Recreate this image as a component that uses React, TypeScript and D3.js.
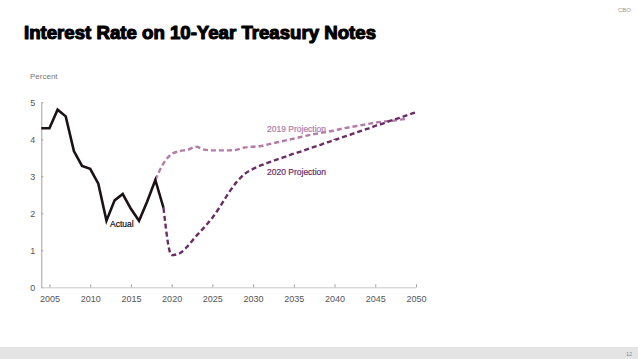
import React, { useRef, useEffect } from "react";
import { select, scaleLinear, line, axisLeft, axisBottom, curveMonotoneX, curveLinear } from "d3";

// actual yields, 2004-2019
const actualYears = [2004, 2005, 2006, 2007, 2008, 2009, 2010, 2011, 2012, 2013, 2014, 2015, 2016, 2017, 2018, 2019];
const actualValues = [4.3, 4.3, 4.8, 4.62, 3.68, 3.28, 3.2, 2.8, 1.8, 2.35, 2.52, 2.12, 1.8, 2.32, 2.9, 2.15];

// 2019 projection, 2018-2049
const proj2019Years = [
  2018, 2019, 2020, 2021, 2022, 2023, 2024, 2025, 2026, 2027, 2028, 2029, 2030, 2031, 2032, 2033,
  2034, 2035, 2036, 2037, 2038, 2039, 2040, 2041, 2042, 2043, 2044, 2045, 2046, 2047, 2048, 2049
];
const proj2019Values = [
  2.9, 3.35, 3.6, 3.68, 3.72, 3.8, 3.72, 3.7, 3.7, 3.7, 3.72, 3.78, 3.8, 3.82, 3.87, 3.92,
  3.97, 4.02, 4.07, 4.12, 4.16, 4.2, 4.24, 4.29, 4.33, 4.37, 4.41, 4.45, 4.48, 4.5, 4.53, 4.56
];

// 2020 projection, 2019-2050
const proj2020Years = [
  2019, 2020, 2021, 2022, 2023, 2024, 2025, 2026, 2027, 2028, 2029, 2030, 2031, 2032, 2033, 2034,
  2035, 2036, 2037, 2038, 2039, 2040, 2041, 2042, 2043, 2044, 2045, 2046, 2047, 2048, 2049, 2050
];
const proj2020Values = [
  2.15, 0.87, 0.92, 1.12, 1.38, 1.62, 1.88, 2.2, 2.55, 2.85, 3.07, 3.2, 3.3, 3.38, 3.46, 3.53,
  3.61, 3.68, 3.76, 3.83, 3.91, 3.98, 4.06, 4.13, 4.21, 4.28, 4.36, 4.43, 4.51, 4.58, 4.66, 4.73
];

const xTicks = [2005, 2010, 2015, 2020, 2025, 2030, 2035, 2040, 2045, 2050];
const yTicks = [0, 1, 2, 3, 4, 5];

const W = 638;
const H = 359;
const FONT = "'Liberation Sans', Arial, sans-serif";

const App = () => {
  const svgRef = useRef<SVGSVGElement>(null);

  useEffect(() => {
    const svg = select(svgRef.current);
    svg.selectAll("*").remove();

    const xScale = scaleLinear().domain([2004, 2050]).range([41.3, 416]);
    const yScale = scaleLinear().domain([0, 5]).range([287.3, 102.3]);

    svg.append("rect").attr("width", W).attr("height", H).attr("fill", "#fff");

    // title + header bits
    svg
      .append("text")
      .attr("x", 24)
      .attr("y", 39)
      .attr("font-family", FONT)
      .attr("font-weight", "bold")
      .attr("font-size", 18)
      .attr("stroke", "#000")
      .attr("stroke-width", 1.1)
      .attr("stroke-linejoin", "round")
      .attr("textLength", 352)
      .attr("lengthAdjust", "spacingAndGlyphs")
      .text("Interest Rate on 10-Year Treasury Notes");

    svg
      .append("text")
      .attr("x", 631)
      .attr("y", 12)
      .attr("text-anchor", "end")
      .attr("font-family", FONT)
      .attr("font-size", 6)
      .attr("fill", "#999")
      .text("CBO");

    // footer band
    svg.append("rect").attr("x", 0).attr("y", 347).attr("width", W).attr("height", 12).attr("fill", "#e4e4e4");
    svg
      .append("text")
      .attr("x", 632)
      .attr("y", 356)
      .attr("text-anchor", "end")
      .attr("font-family", FONT)
      .attr("font-size", 5.5)
      .attr("fill", "#888")
      .text("12");

    svg
      .append("text")
      .attr("x", 30)
      .attr("y", 79)
      .attr("font-family", FONT)
      .attr("font-size", 8)
      .attr("fill", "#777")
      .text("Percent");

    // axes
    const yAxis = axisLeft(yScale)
      .tickValues(yTicks)
      .tickFormat((d: any) => String(d))
      .tickSizeInner(-2)
      .tickSizeOuter(0)
      .tickPadding(6);
    const gy = svg.append("g").attr("transform", "translate(41.3,0)").call(yAxis);
    gy.select(".domain").attr("stroke", "#a0a0a0");
    gy.selectAll(".tick line").attr("stroke", "#a0a0a0");
    gy.selectAll(".tick text").attr("font-family", FONT).attr("font-size", 9).attr("fill", "#555");

    const xAxis = axisBottom(xScale)
      .tickValues(xTicks)
      .tickFormat((d: any) => String(d))
      .tickSizeInner(-3)
      .tickSizeOuter(0)
      .tickPadding(8);
    const gx = svg.append("g").attr("transform", "translate(0,287.3)").call(xAxis);
    gx.select(".domain").attr("stroke", "#c8c8c8");
    gx.selectAll(".tick line").attr("stroke", "#a0a0a0");
    gx.selectAll(".tick text").attr("font-family", FONT).attr("font-size", 9).attr("fill", "#555");

    const mk = (years: number[], vals: number[], curve: any) =>
      line<number>()
        .x((_, i) => xScale(years[i]))
        .y((v) => yScale(v))
        .curve(curve)(vals);

    svg
      .append("path")
      .attr("d", mk(proj2019Years, proj2019Values, curveMonotoneX))
      .attr("fill", "none")
      .attr("stroke", "#b27ca6")
      .attr("stroke-width", 2.4)
      .attr("stroke-dasharray", "5,3");

    svg
      .append("path")
      .attr("d", mk(proj2020Years, proj2020Values, curveMonotoneX))
      .attr("fill", "none")
      .attr("stroke", "#6b2d63")
      .attr("stroke-width", 2.4)
      .attr("stroke-dasharray", "5,3");

    svg
      .append("path")
      .attr("d", mk(actualYears, actualValues, curveLinear))
      .attr("fill", "none")
      .attr("stroke", "#1c1216")
      .attr("stroke-width", 2.6)
      .attr("stroke-linejoin", "miter");

    // series labels
    const labels = [
      { text: "2019 Projection", x: 267, y: 132, fill: "#b27ca6" },
      { text: "2020 Projection", x: 267, y: 175, fill: "#6b2d63" },
      { text: "Actual", x: 110, y: 227, fill: "#111" }
    ];
    svg
      .selectAll(".lbl")
      .data(labels)
      .join("text")
      .attr("class", "lbl")
      .attr("x", (d) => d.x)
      .attr("y", (d) => d.y)
      .attr("font-family", FONT)
      .attr("font-size", 8.5)
      .attr("fill", (d) => d.fill)
      .attr("stroke", (d) => d.fill)
      .attr("stroke-width", 0.2)
      .text((d) => d.text);
  }, []);

  return (
    <svg
      ref={svgRef}
      width={W}
      height={H}
      style={{ position: "fixed", left: 0, top: 0, display: "block" }}
    />
  );
};

export default App;
